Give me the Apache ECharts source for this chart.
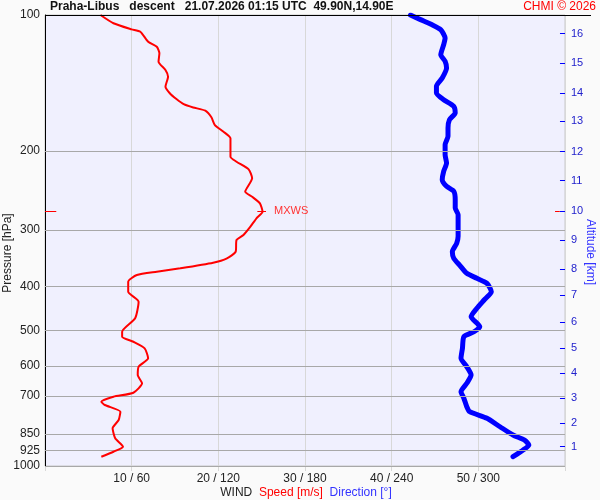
<!DOCTYPE html>
<html><head><meta charset="utf-8">
<script src="https://cdn.jsdelivr.net/npm/echarts@6/dist/echarts.min.js"></script>
<style>html,body{margin:0;padding:0;background:#fafafa}#c{width:600px;height:500px}</style>
</head><body><div id="c"></div>
<script>
const pressureLevels = [100,200,300,400,500,600,700,850,925,1000];
const altitudeKm = [1,2,3,4,5,6,7,8,9,10,11,12,13,14,15,16];
const altitudePressure = [906,804,708,623,548,480,418,366,316,272,233,201,172,149,128,110];
const speedTicks = [10,20,30,40,50];
const speedPressure = [100,104.3,107.6,108.9,114.6,117.6,121.6,126.9,132.4,137.0,144.2,149.1,153.8,157.6,160.3,163.0,168.6,175.4,181.5,187.7,206.2,211.5,219.9,230.2,246.5,252.9,261.6,273.0,282.3,294.7,307.5,315.4,334.9,346.4,354.2,364.5,370.9,377.2,390.3,410.7,432.3,470.5,503.9,516.9,530.3,548.3,577.0,602.3,628.4,655.6,687.9,702.0,720.2,732.4,757.9,790.7,825.0,868.2,906.3,929.7,953.7];
const speedValues = [6.4,7.9,10.0,11.0,11.9,12.9,13.2,13.1,13.9,14.2,13.9,14.4,15.2,16.0,17.1,18.5,19.2,19.6,20.6,21.4,21.4,22.1,23.5,23.9,23.1,23.9,24.8,25.1,24.4,23.7,22.9,22.1,22.0,21.0,19.4,15.6,12.9,10.6,9.6,9.6,10.8,10.4,8.9,8.9,10.2,11.5,11.9,10.8,10.7,11.2,10.2,7.9,6.5,6.9,8.7,8.5,7.8,8.1,9.0,7.9,6.5];
const dirPressure = [100,102.4,105.1,107.8,112.5,116.4,122.5,126.7,131.1,138.0,143.9,148.9,154.1,159.4,164.9,170.7,178.1,185.8,193.9,204.1,212.9,222.2,231.8,239.8,245.9,256.8,267.9,277.2,291.7,309.5,320.8,334.9,346.4,358.4,373.9,383.6,393.6,410.7,428.5,447.0,466.7,491.2,503.9,516.9,548.3,577.0,602.3,628.4,655.6,684.4,707.8,738.9,757.9,783.9,818.4,853.8,875.9,898.5,921.5,953.7];
const dirValues = [253,260,268,274,277,276,274,277,278,275,271,271,276,283,284,280,279,279,277,277,278,276,275,278,283,284,284,286,286,286,285,282,283,287,292,299,306,309,304,299,295,301,297,290,289,288,292,295,292,288,290,292,294,306,315,324,332,335,331,324];
const mxwsSpeed = 25.1;
const mxwsPressure = 272;

const FONT = 'Liberation Sans, Arial, sans-serif';
const chart = echarts.init(document.getElementById('c'), null, {renderer:'canvas'});

function kmFor(p){
  let best = 0, bd = Infinity;
  altitudePressure.forEach((q,i)=>{ const d=Math.abs(Math.log(q)-Math.log(p)); if(d<bd){bd=d;best=i;} });
  return String(altitudeKm[best]);
}

const option = {
  animation: false,
  backgroundColor: '#fafafa',
  textStyle: {fontFamily: FONT},
  grid: {left:45, right:35, top:15, bottom:34, show:true, backgroundColor:'#f0f0fe', borderColor:'#c8c8c8', borderWidth:1},
  xAxis: [{
    type:'value', min:0, max:60, interval:10,
    axisLine:{show:false},
    axisTick:{show:true, length:5, lineStyle:{color:'#d8d8d8'}},
    splitLine:{show:true, lineStyle:{color:'#d8d8d8', width:1}},
    axisLabel:{color:'#222', fontSize:12, margin:7, fontFamily:FONT,
      formatter: v => speedTicks.indexOf(v) >= 0 ? (v + ' / ' + v*6) : ''}
  },{
    type:'value', min:0, max:360, show:false
  }],
  yAxis: [{
    type:'log', logBase:10, min:100, max:1000, inverse:true,
    axisLine:{show:true, lineStyle:{color:'#000', width:1}},
    axisTick:{show:false},
    axisLabel:{color:'#222', fontSize:12, margin:5, fontFamily:FONT, customValues: pressureLevels,
      formatter: v => String(Math.round(v))},
    splitLine:{show:false}
  },{
    type:'log', logBase:10, min:100, max:1000, inverse:true, position:'right', offset:3,
    axisLine:{show:false},
    axisTick:{show:false},
    axisLabel:{color:'#2222cc', fontSize:11, margin:3, fontFamily:FONT, customValues: altitudePressure,
      formatter: v => kmFor(v)},
    splitLine:{show:false}
  }],
  series: [{
    type:'line', name:'Speed', xAxisIndex:0, yAxisIndex:0,
    data: speedPressure.map((p,i)=>[speedValues[i], p]),
    showSymbol:false, smooth:0.2,
    lineStyle:{color:'#ff0000', width:2},
    z:5,
    markLine:{
      silent:true, symbol:'none', animation:false,
      lineStyle:{color:'#ff0000', width:1, type:'solid'},
      label:{show:false},
      data:[
        [{coord:[0, mxwsPressure]}, {coord:[1.3, mxwsPressure]}],
        [{coord:[58.85, mxwsPressure]}, {coord:[59.4, mxwsPressure]}],
        [{coord:[mxwsSpeed-0.6, mxwsPressure], label:{show:true, position:'end', formatter:'MXWS', color:'#ff3333', fontSize:11, distance:8, fontFamily:FONT}},
         {coord:[mxwsSpeed+0.4, mxwsPressure]}]
      ]
    }
  },{
    type:'line', name:'Direction', xAxisIndex:1, yAxisIndex:0,
    data: dirPressure.map((p,i)=>[dirValues[i], p]),
    showSymbol:false, smooth:0.2,
    lineStyle:{color:'#0000ff', width:5, cap:'round', join:'round'},
    z:4
  },{
    type:'line', name:'levels', xAxisIndex:0, yAxisIndex:0, data:[], silent:true, z:2,
    markLine:{
      silent:true, symbol:'none', animation:false, label:{show:false},
      lineStyle:{color:'#a8a8a8', width:1, type:'solid'},
      data: pressureLevels.filter(p=>p>100).map(p=>[{coord:[0,p]},{coord:[60,p]}])
    }
  },{
    type:'line', name:'altTicks', xAxisIndex:0, yAxisIndex:0, data:[], silent:true, z:6,
    markLine:{
      silent:true, symbol:'none', animation:false, label:{show:false},
      lineStyle:{color:'#0000ff', width:1, type:'solid'},
      data: altitudePressure.map(p=>[{coord:[59.42,p]},{coord:[60,p]}])
    }
  }],
  graphic: [
    {type:'line', z:100, shape:{x1:45, y1:15.5, x2:591, y2:15.5}, style:{stroke:'#000', lineWidth:1}},
    {type:'text', z:100, left:50, top:1, style:{text:'Praha-Libus   descent   21.07.2026 01:15 UTC  49.90N,14.90E', font:'bold 12px '+FONT, fill:'#111'}},
    {type:'text', z:100, right:4, top:1, style:{text:'CHMI © 2026', font:'12px '+FONT, fill:'#ff0000'}},
    {type:'text', z:100, x:8, y:253, rotation:Math.PI/2, style:{text:'Pressure [hPa]', font:'12px '+FONT, fill:'#222', align:'center', verticalAlign:'middle'}},
    {type:'text', z:100, x:590, y:252, rotation:-Math.PI/2, style:{text:'Altitude [km]', font:'12px '+FONT, fill:'#3333ff', align:'center', verticalAlign:'middle'}},
    {type:'text', z:100, x:306, y:493, style:{
      text:'{a|WIND}  {b|Speed [m/s]}  {c|Direction [°]}', align:'center', verticalAlign:'middle', font:'12px '+FONT,
      rich:{a:{fill:'#222', fontSize:12, fontFamily:FONT}, b:{fill:'#ff0000', fontSize:12, fontFamily:FONT}, c:{fill:'#3333ff', fontSize:12, fontFamily:FONT}}}}
  ]
};
chart.setOption(option);
</script></body></html>
